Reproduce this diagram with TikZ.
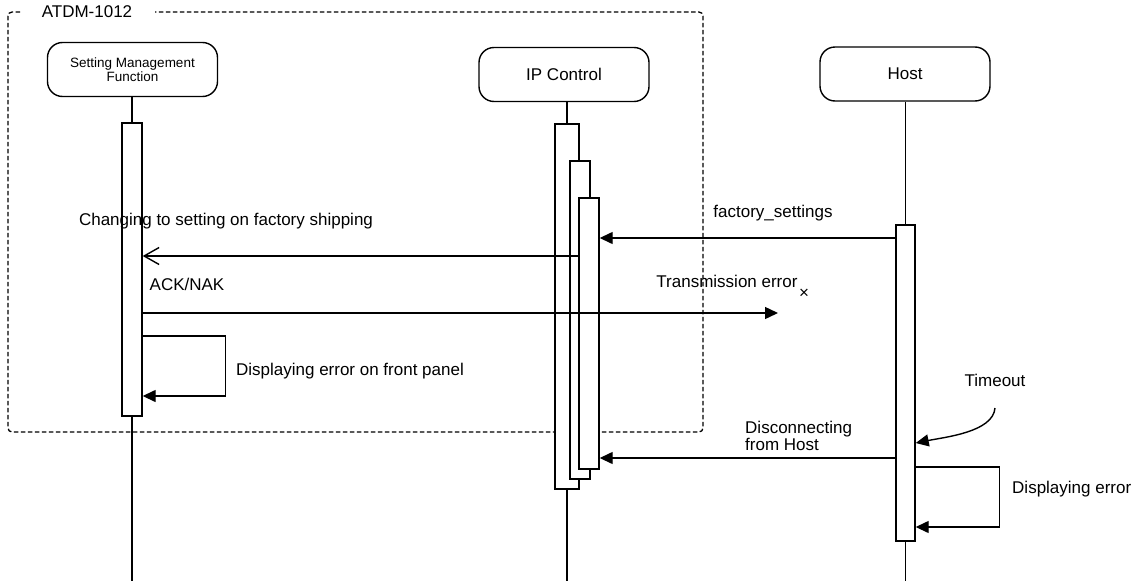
\documentclass[tikz,border=0pt]{standalone}
\usepackage{fontspec}
\setmainfont{Liberation Sans}
\usetikzlibrary{arrows.meta}

\tikzset{
  lifebox/.style={draw, rounded corners=15pt, minimum width=170pt, minimum height=54pt, line width=1.4pt, align=center},
  actbar/.style={draw, fill=white, inner sep=0pt, minimum width=20pt, line width=1.4pt},
  syncmsg/.style={-{Triangle[length=13pt,width=12pt]}, line width=1.4pt},
  openmsg/.style={-{Straight Barb[length=15pt,width=17pt]}, line width=1.4pt},
  lbl/.style={inner sep=0pt},
}

\begin{document}
\begin{tikzpicture}[x=1pt,y=-1pt,font=\fontsize{17}{17}\selectfont]
  \useasboundingbox (0,0) rectangle (1135,581);

  % Frame of the device
  \draw[dash pattern=on 4.5pt off 2.5pt, line width=1.3pt, rounded corners=4pt]
    (20,12) -- (8,12) -- (8,432) -- (703,432) -- (703,12) -- (155,12);
  \node[lbl] (frm) at (87,12) {ATDM-1012};

  % Lifeline heads
  \node[lifebox, font=\fontsize{13.5}{14}\selectfont] (smf) at (132.5,69.5) {Setting Management\\Function};
  \node[lifebox] (ipc) at (564,74.5) {IP Control};
  \node[lifebox] (host) at (905,74) {Host};

  % Activation bars
  \node[actbar, minimum height=293pt] (smfa) at (132,269.5) {};
  \node[actbar, minimum width=24pt, minimum height=365pt] (ipa1) at (567,306.5) {};
  \node[actbar, minimum height=318pt] (ipa2) at (580,320) {};
  \node[actbar, minimum height=271pt] (ipa3) at (589,333.5) {};
  \node[actbar, minimum width=19pt, minimum height=316pt] (hosta) at (905.5,383) {};

  % Lifelines
  \draw[line width=1.4pt] (smf.south -| smfa.north) -- (smfa.north);
  \draw[line width=1.4pt] (smfa.south) -- (smfa.south |- 0,581);
  \draw[line width=1.4pt] (ipc.south -| ipa1.north) -- (ipa1.north);
  \draw[line width=1.4pt] (ipa1.south) -- (ipa1.south |- 0,581);
  \draw[line width=1.4pt] (host.south -| hosta.north) -- (hosta.north);
  \draw[line width=1.4pt] (hosta.south) -- (hosta.south |- 0,581);

  % Messages
  \draw[syncmsg] (hosta.west |- 0,238) -- (ipa3.east |- 0,238);
  \node[lbl] (m1) at (773,213) {factory\_settings};

  \draw[openmsg] (ipa3.west |- 0,256) -- (smfa.east |- 0,256);
  \node[lbl] (m2) at (226,221) {Changing to setting on factory shipping};

  \coordinate (lost) at (778,313);
  \draw[syncmsg] (smfa.east |- 0,313) -- (lost);
  \node[lbl] (m3) at (187,284) {ACK/NAK};
  \node[lbl] (m3e) at (727,281) {Transmission error};
  \node[lbl] (lostx) at (804,294) {×};

  \draw[syncmsg] (smfa.east |- 0,336) -- ++(83,0) |- (smfa.east |- 0,396);
  \node[lbl] (m4) at (350,371) {Displaying error on front panel};

  % Timeout
  \node[lbl] (tmo) at (995,380) {Timeout};
  \coordinate (tmostart) at (995,408);
  \draw[syncmsg] (tmostart) .. controls +(-2,24) and +(30,-6) .. (hosta.east |- 0,443);

  \draw[syncmsg] (hosta.west |- 0,458) -- (ipa3.east |- 0,458);
  \node[lbl, align=left, anchor=west] (m5) at (745,435.5) {Disconnecting\\from Host};

  \draw[syncmsg] (hosta.east |- 0,467) -- ++(84,0) |- (hosta.east |- 0,527);
  \node[lbl, anchor=west] (m6) at (1012,489) {Displaying error};
\end{tikzpicture}
\end{document}
